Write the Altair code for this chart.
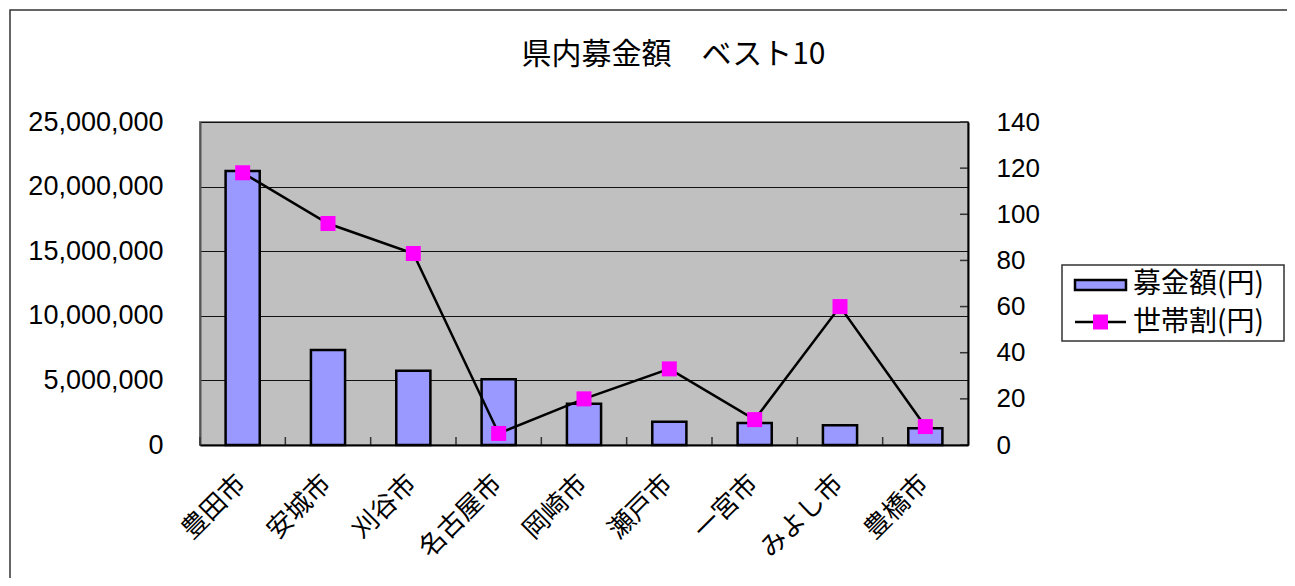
import altair as alt
import pandas as pd

# ---- data ----
cities = ["豊田市", "安城市", "刈谷市", "名古屋市", "岡崎市", "瀬戸市", "一宮市", "みよし市", "豊橋市"]
amount = [21200000, 7350000, 5750000, 5080000, 3200000, 1800000, 1700000, 1520000, 1290000]
per_household = [118, 96, 83, 5, 20, 33, 11, 60, 8]
series_names = ["募金額(円)", "世帯割(円)"]
left_ticks = [0, 5000000, 10000000, 15000000, 20000000, 25000000]
right_ticks = [0, 20, 40, 60, 80, 100, 120, 140]
title_text = "県内募金額　ベスト10"

df = pd.DataFrame({"city": cities, "amount": amount, "per": per_household})
legend_df = pd.DataFrame({"name": series_names, "row": [0, 1]})
one = pd.DataFrame({"k": [0]})
rt_df = pd.DataFrame({"v": right_ticks})

W, H = 768, 323
STEP = W / len(cities)
JP = "Noto Sans CJK JP"
NUM = "Liberation Sans"

xscale = alt.Scale(domain=cities, paddingInner=0.6, paddingOuter=0.3)
yl = alt.Scale(domain=[0, 25000000], nice=False, zero=True)
yr = alt.Scale(domain=[0, 140], nice=False, zero=True)

x_axis = alt.Axis(title=None, labelAngle=-45, labelAlign="right", labelBaseline="middle",
                  labelFont=JP, labelFontSize=26, labelColor="black", labelPadding=34,
                  labelOffset=-1, ticks=False, domain=True, domainColor="black",
                  domainWidth=2, grid=False, labelOverlap=False, zindex=1)
X = alt.X("city:N", scale=xscale, sort=cities, axis=x_axis)

# outer chart frame (outline only)
frame = alt.Chart(one).mark_rect(fill="transparent", stroke="#333333", strokeWidth=1.5).encode(
    x=alt.value(-190), x2=alt.value(1200), y=alt.value(-112), y2=alt.value(600)
)

bars = alt.Chart(df).mark_bar(fill="#9999FF", stroke="black", strokeWidth=2.5).encode(
    x=X,
    y=alt.Y("amount:Q", scale=yl,
            axis=alt.Axis(title=None, values=left_ticks, format=",d", labelFont=NUM,
                          labelFontSize=27, labelColor="black", grid=True, gridColor="#111111",
                          gridWidth=1, ticks=False, labelPadding=37, domain=True,
                          domainColor="#555555", domainWidth=2)),
)

line = alt.Chart(df).mark_line(color="black", strokeWidth=2.5).encode(
    x=X,
    y=alt.Y("per:Q", scale=yr,
            axis=alt.Axis(title=None, orient="right", values=right_ticks, labelFont=NUM,
                          labelFontSize=26, labelColor="black", grid=False, ticks=False,
                          labelPadding=28, domain=True, domainColor="black", domainWidth=2,
                          zindex=1)),
)
points = alt.Chart(df).mark_point(shape="square", filled=True, color="#FF00FF", size=225, opacity=1).encode(
    x=X,
    y=alt.Y("per:Q", scale=yr, axis=None),
)

rticks = alt.Chart(rt_df).mark_rule(color="#333333", strokeWidth=1.5).encode(
    y=alt.Y("v:Q", scale=yr, axis=None), x=alt.value(W - 8), x2=alt.value(W)
)
xticks = alt.Chart(df).mark_rule(color="#333333", strokeWidth=1.5, xOffset=-STEP / 2).encode(
    x=X, y=alt.value(H - 8), y2=alt.value(H)
)

title = alt.Chart(one).mark_text(text=title_text, font=JP, fontSize=30, color="black",
                                 align="center", baseline="middle").encode(
    x=alt.value(473.5), y=alt.value(-67)
)

# legend
lbox = alt.Chart(one).mark_rect(fill="white", stroke="#333333", strokeWidth=1.5).encode(
    x=alt.value(862), x2=alt.value(1084), y=alt.value(143), y2=alt.value(219)
)
lsw = alt.Chart(one).mark_rect(fill="#9999FF", stroke="black", strokeWidth=2.5).encode(
    x=alt.value(875), x2=alt.value(926), y=alt.value(158), y2=alt.value(168)
)
lline = alt.Chart(one).mark_rule(color="black", strokeWidth=2.5).encode(
    x=alt.value(875), x2=alt.value(926), y=alt.value(200)
)
lpt = alt.Chart(one).mark_point(shape="square", filled=True, color="#FF00FF", size=225, opacity=1).encode(
    x=alt.value(900.5), y=alt.value(200)
)
ltext = alt.Chart(legend_df).mark_text(font=JP, fontSize=28, color="black", align="left",
                                       baseline="middle").encode(
    text="name:N",
    x=alt.value(933),
    y=alt.Y("row:Q", scale=alt.Scale(domain=[0, 1], range=[163, 201]), axis=None),
)

chart = alt.layer(
    frame, bars, xticks, line, points, rticks, title, lbox, lsw, lline, lpt, ltext
).resolve_scale(y="independent").properties(
    width=W, height=H,
    background="white",
    autosize=alt.AutoSizeParams(type="none"),
    padding={"left": 192, "top": 114, "right": 319, "bottom": 133},
).configure_view(fill="#C0C0C0", stroke="#808080", strokeWidth=2)

chart.save("out.html", embed_options={"renderer": "svg", "actions": False})
